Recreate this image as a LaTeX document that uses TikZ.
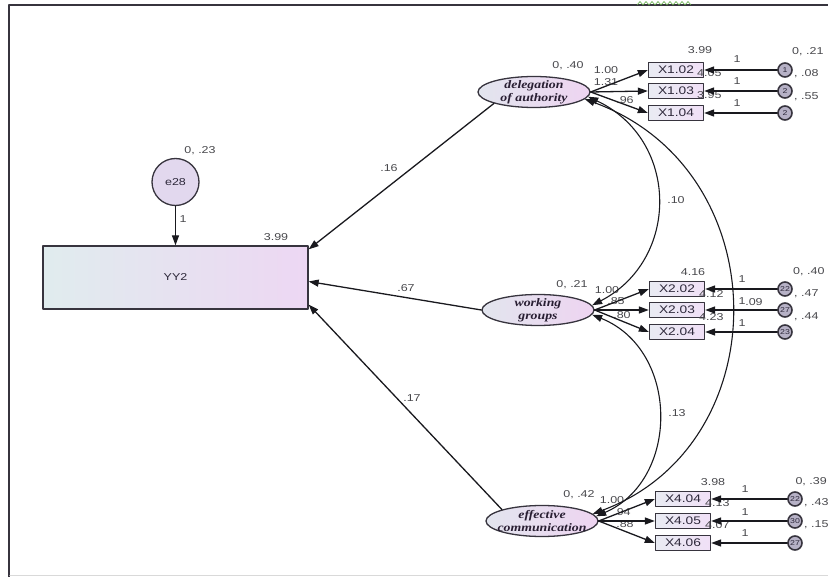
\documentclass[tikz,border=0pt]{standalone}
\usepackage{fontspec}
\setmainfont{Liberation Sans}[FakeStretch=1.25]
\newfontfamily\latfont{Liberation Serif}[FakeStretch=1.2]
\usetikzlibrary{shapes.geometric,arrows.meta}

\begin{document}
\begin{tikzpicture}[x=1pt,y=-1pt,line cap=round,line join=round,
  lat/.style={ellipse,draw=edge,line width=1.3pt,left color=latleft,right color=latright,minimum width=112pt,minimum height=31pt,inner sep=0pt},
  lattext/.style={align=center,inner sep=0pt,text=latink,font=\latfont\bfseries\itshape\fontsize{11.5}{13}\selectfont},
  obs/.style={draw=edge,line width=1.3pt,left color=obsleft,right color=obsright,minimum width=55pt,minimum height=15pt,inner sep=0pt,text=boxink,font=\fontsize{11}{11}\selectfont},
  err/.style={circle,draw=edge,line width=1.6pt,fill=errfill,minimum size=14pt,inner sep=0pt,text=boxink,font=\fontsize{7}{7}\selectfont},
  reg/.style={-{Triangle[length=10pt,width=7pt]},line width=1.3pt,draw=ink},
  cov/.style={{Triangle[length=10pt,width=7pt]}-{Triangle[length=10pt,width=7pt]},line width=1.1pt,draw=ink},
  est/.style={inner sep=0pt,text=labink,font=\fontsize{10}{10}\selectfont}]
  \definecolor{edge}{RGB}{55,52,62}
  \definecolor{ink}{RGB}{25,25,30}
  \definecolor{labink}{RGB}{72,72,76}
  \definecolor{boxink}{RGB}{45,40,58}
  \definecolor{latink}{RGB}{40,30,50}
  \definecolor{latleft}{RGB}{226,229,238}
  \definecolor{latright}{RGB}{238,212,241}
  \definecolor{obsleft}{RGB}{233,235,243}
  \definecolor{obsright}{RGB}{240,224,246}
  \definecolor{yyleft}{RGB}{224,236,238}
  \definecolor{yyright}{RGB}{237,215,243}
  \definecolor{e28fill}{RGB}{226,216,238}
  \definecolor{errfill}{RGB}{182,177,198}
  \definecolor{squiggle}{RGB}{96,170,70}

  \useasboundingbox (0,0) rectangle (828,577);

  % page frame
  \draw[edge,line width=1.6pt] (9,577) -- (9,5) -- (828,5);
  \draw[gray!30,line width=1.2pt] (10,575.5) -- (828,575.5);
  \draw[squiggle,line width=0.6pt] (637,5) \foreach \xx in {637,643,...,685} { -- (\xx+3,1.5) -- (\xx+6,5) };

  % dependent variable
  \node[draw=edge,line width=1.3pt,left color=yyleft,right color=yyright,minimum width=265pt,minimum height=63pt,inner sep=0pt,text=boxink,font=\fontsize{10}{10}\selectfont] (yy2) at (175.5,277.5) {YY2};
  \node[circle,draw=edge,line width=1.3pt,fill=e28fill,minimum size=47pt,inner sep=0pt,text=boxink,font=\fontsize{10}{10}\selectfont] (e28) at (175.5,182) {e28};

  % latent factors
  \node[lat] (deleg) at (534,92) {};
  \node[lattext] (deleg-t) at (deleg.center) {delegation\\ of authority};
  \node[lat] (work) at (538,310) {};
  \node[lattext] (work-t) at (work.center) {working\\ groups};
  \node[lat] (effc) at (542,521) {};
  \node[lattext] (effc-t) at (effc.center) {effective\\ communication};

  % indicators
  \node[obs] (x102) at (676,70) {X1.02};
  \node[obs] (x103) at (676,91) {X1.03};
  \node[obs] (x104) at (676,113) {X1.04};
  \node[obs] (x202) at (677,289) {X2.02};
  \node[obs] (x203) at (677,310) {X2.03};
  \node[obs] (x204) at (677,332) {X2.04};
  \node[obs] (x404) at (683,499) {X4.04};
  \node[obs] (x405) at (683,521) {X4.05};
  \node[obs] (x406) at (683,543) {X4.06};

  % estimates
  \node[est] (v-e28) at (200,151) {0, .23};
  \node[est] (w-e28) at (183,219) {1};
  \node[est] (i-yy2) at (276,237) {3.99};
  \node[est] (b-deleg) at (389,168) {.16};
  \node[est] (b-work) at (406,288) {.67};
  \node[est] (b-effc) at (412,398) {.17};
  \node[est] (c-dw) at (676,200) {.10};
  \node[est] (c-we) at (677,413) {.13};
  \node[est] (c-de) at (754,302) {.09};

  \node[est] (v-deleg) at (568,66) {0, .40};
  \node[est] (l-102) at (606,70) {1.00};
  \node[est] (l-103) at (606,82) {1.31};
  \node[est] (l-104) at (625,100) {.96};
  \node[est] (i-102) at (700,50) {3.99};
  \node[est,anchor=west] (i-103) at (697,73) {4.05};
  \node[est,anchor=west] (i-104) at (697,95) {3.95};
  \node[est] (w-102) at (737,59) {1};
  \node[est] (w-103) at (737,81) {1};
  \node[est] (w-104) at (737,103) {1};
  \node[est,anchor=west] (v-e1) at (792,52) {0, .21};
  \node[est,anchor=west] (v-e2) at (794,74) {, .08};
  \node[est,anchor=west] (v-e3) at (794,97) {, .55};

  \node[est] (v-work) at (572,285) {0, .21};
  \node[est] (l-202) at (607,290) {1.00};
  \node[est] (l-203) at (616,301) {.85};
  \node[est] (l-204) at (622,315) {.80};
  \node[est] (i-202) at (693,272) {4.16};
  \node[est,anchor=west] (i-203) at (699,294) {4.12};
  \node[est,anchor=west] (i-204) at (699,317) {4.23};
  \node[est] (w-202) at (742,279) {1};
  \node[est] (w-203) at (742,301) {1};
  \node[est] (w-204) at (742,323) {1};
  \node[est,anchor=west] (v-e4) at (793,272) {0, .40};
  \node[est,anchor=west] (v-e5) at (794,294) {, .47};
  \node[est,anchor=west] (v-e6) at (794,317) {, .44};

  \node[est] (v-effc) at (579,495) {0, .42};
  \node[est] (l-404) at (612,500) {1.00};
  \node[est] (l-405) at (622,512) {.94};
  \node[est] (l-406) at (625,524) {.88};
  \node[est] (i-404) at (713,482) {3.98};
  \node[est,anchor=west] (i-405) at (705,503) {4.13};
  \node[est,anchor=west] (i-406) at (705,525) {4.07};
  \node[est] (w-404) at (745,489) {1};
  \node[est] (w-405) at (745,512) {1};
  \node[est] (w-406) at (745,533) {1};
  \node[est,anchor=east] (v-e7) at (827,482) {0, .39};
  \node[est,anchor=west] (v-e8) at (804,503) {, .43};
  \node[est,anchor=west] (v-e9) at (804,525) {, .15};

  % error terms
  \node[err] (e1) at (785,70) {1};
  \node[err] (e2) at (785,91) {2};
  \node[err] (e3) at (785,113) {2};
  \node[err] (e4) at (785,289) {22};
  \node[err] (e5) at (785,310) {27};
  \node[err] (e6) at (785,332) {23};
  \node[err] (e7) at (795,499) {22};
  \node[err] (e8) at (795,521) {30};
  \node[err] (e9) at (795,543) {27};

  % regressions
  \draw[reg] (e28.south) -- (yy2.north);
  \draw[reg] (deleg.south west) -- ([yshift=-4pt]yy2.north east);
  \draw[reg] (work.west) -- ([yshift=-4pt]yy2.east);
  \draw[reg] (effc.north west) -- ([yshift=5pt]yy2.south east);

  % loadings
  \draw[reg] (deleg.east) -- (x102.west);
  \draw[reg] (deleg.east) -- (x103.west);
  \draw[reg] (deleg.east) -- (x104.west);
  \draw[reg] (work.east) -- (x202.west);
  \draw[reg] (work.east) -- (x203.west);
  \draw[reg] (work.east) -- (x204.west);
  \draw[reg] (effc.east) -- (x404.west);
  \draw[reg] (effc.east) -- (x405.west);
  \draw[reg] (effc.east) -- (x406.west);

  % residuals
  \draw[reg] (e1) -- (x102.east);
  \draw[reg] (e2) -- (x103.east);
  \draw[reg] (e3) -- (x104.east);
  \draw[reg] (e4) -- (x202.east);
  \draw[reg] (e5) -- (x203.east);
  \draw[reg] (e6) -- (x204.east);
  \draw[reg] (e7) -- (x404.east);
  \draw[reg] (e8) -- (x405.east);
  \draw[reg] (e9) -- (x406.east);

  % covariances
  \draw[cov] (deleg.-5) .. controls (680,140) and (680,260) .. (work.5);
  \draw[cov] (work.-5) .. controls (680,350) and (680,480) .. (effc.5);
  \draw[cov] (deleg.-8) .. controls (779,170) and (779,445) .. (effc.8);
\end{tikzpicture}
\end{document}
